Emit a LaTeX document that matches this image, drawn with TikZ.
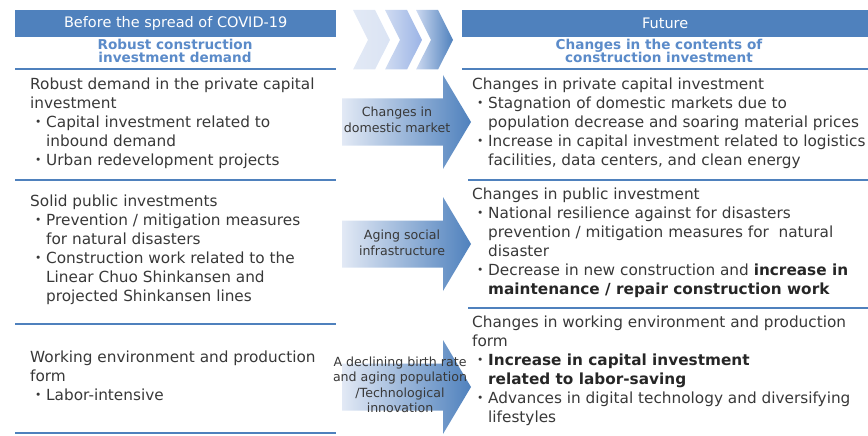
\documentclass[tikz,border=0pt]{standalone}
\usepackage{fontspec}
\setmainfont{DejaVu Sans}
\newfontfamily\cjk{Noto Sans CJK JP}
\definecolor{hdrblue}{HTML}{4F81BD}
\definecolor{subblue}{HTML}{5B8BC9}
\definecolor{bodygray}{HTML}{383838}
\definecolor{paleblue}{HTML}{E2E9F5}
\definecolor{midblue}{HTML}{9BB4E6}
\newcommand{\bul}{\makebox[16pt][c]{\cjk ・}}
\newcommand{\ind}{\hspace*{16pt}}
\newcommand{\hilite}[1]{\textbf{\color{black!85}#1}}

\tikzset{
  hdr/.style={fill=hdrblue, text=white, minimum height=27pt, inner sep=0pt,
    anchor=north west, font=\fontsize{14.5}{16}\selectfont},
  sub/.style={text=subblue, align=center, inner sep=0pt,
    font=\bfseries\fontsize{13.6}{13.6}\selectfont},
  body/.style={anchor=north west, align=left, inner sep=0pt, text=bodygray,
    font=\fontsize{15.3}{19}\selectfont},
  cue/.style={align=center, inner sep=0pt, text=bodygray,
    font=\fontsize{12.6}{15.5}\selectfont},
  rule/.style={draw=hdrblue, line width=2pt}
}

\begin{document}
\begin{tikzpicture}[x=1pt,y=-1pt]
\useasboundingbox (0,0) rectangle (868,436);

\node[hdr, minimum width=321pt] (before) at (15,10) {Before the spread of COVID-19};
\node[hdr, minimum width=406pt] (future) at (462,10) {Future};
\node[sub] (robust) at (175,51) {Robust construction\\investment demand};
\node[sub] (contents) at (659,51) {Changes in the contents of\\construction investment};

% chevrons
\foreach \x/\c/\d in {353/paleblue/paleblue!90!midblue,
                      385/paleblue!75!midblue/midblue,
                      416/paleblue!70!midblue/hdrblue}{
  \shade[left color=\c, right color=\d]
    (\x,10) -- ++(22,0) -- ++(15,30) -- ++(-15,29.5) -- ++(-22,0) -- ++(15,-29.5) -- cycle;
}

\foreach \ym in {122,244,387}{
  \shade[left color=paleblue, middle color=paleblue!65!hdrblue, right color=hdrblue]
    (342,\ym-23.5) -- (443,\ym-23.5) -- (443,\ym-47) -- (471,\ym)
    -- (443,\ym+47) -- (443,\ym+23.5) -- (342,\ym+23.5) -- cycle;
}
\node[cue] (market) at (397,120) {Changes in\\domestic market};
\node[cue] (infra) at (402,243) {Aging social\\infrastructure};
\node[cue] (birth) at (400,385) {A declining birth rate\\and aging population\\/Technological\\innovation};

\node[body] (privnow) at (30,78) {Robust demand in the private capital\\investment\\\bul Capital investment related to\\\ind inbound demand\\\bul Urban redevelopment projects};
\node[body] (pubnow) at (30,195) {Solid public investments\\\bul Prevention / mitigation measures\\\ind for natural disasters\\\bul Construction work related to the\\\ind Linear Chuo Shinkansen and\\\ind projected Shinkansen lines};
\node[body] (worknow) at (30,351) {Working environment and production\\form\\\bul Labor-intensive};

\node[body] (privnext) at (472,78) {Changes in private capital investment\\\bul Stagnation of domestic markets due to\\\ind population decrease and soaring material prices\\\bul Increase in capital investment related to logistics\\\ind facilities, data centers, and clean energy};
\node[body] (pubnext) at (472,188) {Changes in public investment\\\bul National resilience against for disasters\\\ind prevention / mitigation measures for \ natural\\\ind disaster\\\bul Decrease in new construction and \hilite{increase in}\\\ind\hilite{maintenance / repair construction work}};
\node[body] (worknext) at (472,316) {Changes in working environment and production\\form\\\bul\hilite{Increase in capital investment}\\\ind\hilite{related to labor-saving}\\\bul Advances in digital technology and diversifying\\\ind lifestyles};

\path[rule]
  (15,69) edge (336,69)
  (15,180) edge (336,180)
  (15,324) edge (336,324)
  (15,433) edge (336,433)
  (462,69) edge (868,69)
  (468,180) edge (868,180)
  (468,308) edge (868,308);

\end{tikzpicture}
\end{document}
